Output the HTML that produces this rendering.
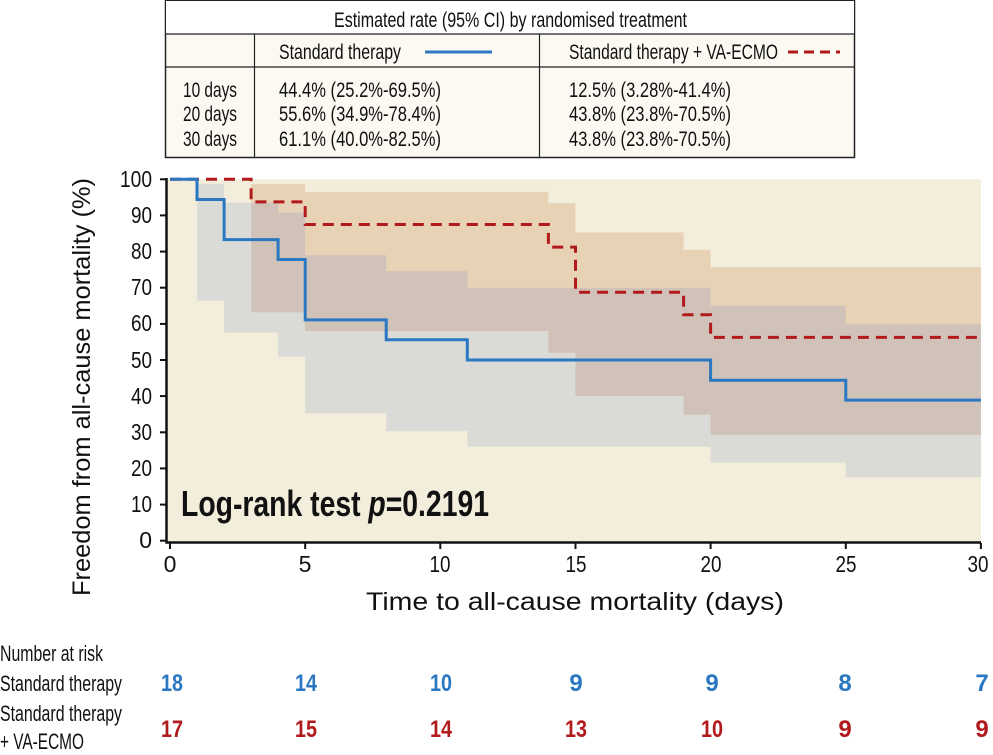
<!DOCTYPE html>
<html><head><meta charset="utf-8"><style>
html,body{margin:0;padding:0;background:#fff}
svg{display:block}
text{font-family:"Liberation Sans Narrow","Liberation Sans",sans-serif;fill:#111}
</style></head><body>
<svg width="993" height="755" viewBox="0 0 993 755" xmlns="http://www.w3.org/2000/svg">
<!-- table -->
<rect x="165.5" y="0.5" width="689" height="157" fill="#fbf9f2" stroke="#222" stroke-width="1.5"/>
<rect x="166" y="1" width="688" height="33" fill="#fff"/>
<line x1="165" y1="34" x2="855" y2="34" stroke="#222" stroke-width="1.2"/>
<line x1="165" y1="67" x2="855" y2="67" stroke="#222" stroke-width="1.2"/>
<line x1="254.5" y1="34" x2="254.5" y2="157" stroke="#222" stroke-width="1.2"/>
<line x1="539.5" y1="34" x2="539.5" y2="157" stroke="#222" stroke-width="1.2"/>
<g font-size="21">
<text x="334" y="27" textLength="353" lengthAdjust="spacingAndGlyphs">Estimated rate (95% CI) by randomised treatment</text>
<text x="279" y="59" textLength="122" lengthAdjust="spacingAndGlyphs">Standard therapy</text>
<text x="569" y="59" textLength="209" lengthAdjust="spacingAndGlyphs">Standard therapy + VA-ECMO</text>
<text x="183" y="97" textLength="54" lengthAdjust="spacingAndGlyphs">10 days</text>
<text x="183" y="121" textLength="54" lengthAdjust="spacingAndGlyphs">20 days</text>
<text x="183" y="146" textLength="54" lengthAdjust="spacingAndGlyphs">30 days</text>
<text x="279" y="97" textLength="162" lengthAdjust="spacingAndGlyphs">44.4% (25.2%-69.5%)</text>
<text x="279" y="121" textLength="162" lengthAdjust="spacingAndGlyphs">55.6% (34.9%-78.4%)</text>
<text x="279" y="146" textLength="162" lengthAdjust="spacingAndGlyphs">61.1% (40.0%-82.5%)</text>
<text x="569" y="97" textLength="162" lengthAdjust="spacingAndGlyphs">12.5% (3.28%-41.4%)</text>
<text x="569" y="121" textLength="162" lengthAdjust="spacingAndGlyphs">43.8% (23.8%-70.5%)</text>
<text x="569" y="146" textLength="162" lengthAdjust="spacingAndGlyphs">43.8% (23.8%-70.5%)</text>
</g>
<line x1="425" y1="52" x2="492" y2="52" stroke="#2a77c2" stroke-width="3"/>
<line x1="788" y1="52" x2="840" y2="52" stroke="#b2191b" stroke-width="3" stroke-dasharray="10,6"/>

<!-- plot background -->
<rect x="167" y="179.3" width="814" height="362" fill="#f3eedb"/>
<g transform="translate(170,540.7) scale(27.03,-3.614)">
<g fill="#dadbd6">
<rect x="1" y="66.4" width="1" height="32.3"/>
<rect x="2" y="57.6" width="2" height="35.9"/>
<rect x="4" y="50.9" width="1" height="39.9"/>
<rect x="5" y="35.3" width="3" height="43.7"/>
<rect x="8" y="30.3" width="3" height="44.3"/>
<rect x="11" y="26" width="9" height="44"/>
<rect x="20" y="21.6" width="5" height="43.4"/>
<rect x="25" y="17.6" width="5" height="42.3"/>
</g>
<g fill="#e7d2b6">
<rect x="3" y="63.2" width="2" height="35.5"/>
<rect x="5" y="58" width="9" height="38.5"/>
<rect x="14" y="52" width="1" height="41.4"/>
<rect x="15" y="40" width="4" height="45.3"/>
<rect x="19" y="34.9" width="1" height="45.6"/>
<rect x="20" y="29.3" width="10" height="46.4"/>
</g>
<g fill="#d1c2b9">
<rect x="3" y="63.2" width="1" height="30.3"/>
<rect x="4" y="63.2" width="1" height="27.6"/>
<rect x="5" y="58" width="3" height="21"/>
<rect x="8" y="58" width="3" height="16.6"/>
<rect x="11" y="58" width="3" height="12"/>
<rect x="14" y="52" width="1" height="18"/>
<rect x="15" y="40" width="4" height="30"/>
<rect x="19" y="34.9" width="1" height="35.1"/>
<rect x="20" y="29.3" width="5" height="35.7"/>
<rect x="25" y="29.3" width="5" height="30.6"/>
</g>
</g>
<path d="M170,179.3 H251.1 V201.9 H305.2 V224.5 H548.4 V247.1 H575.5 V292.2 H683.6 V314.8 H710.6 V337.4 H980.9" fill="none" stroke="#b2191b" stroke-width="3" stroke-dasharray="11,7"/>
<path d="M170,179.3 H197 V199.5 H224.1 V239.6 H278.1 V259.5 H305.2 V319.9 H386.2 V339.8 H467.3 V360 H710.6 V380.2 H845.8 V400.1 H980.9" fill="none" stroke="#2a77c2" stroke-width="3"/>

<g stroke="#111" stroke-width="2.5" fill="none">
<path d="M166.5,178 V542.5 H981"/>
</g>
<g stroke="#111" stroke-width="2">
<line x1="160" y1="179.3" x2="166" y2="179.3"/><line x1="160" y1="215.4" x2="166" y2="215.4"/>
<line x1="160" y1="251.6" x2="166" y2="251.6"/><line x1="160" y1="287.7" x2="166" y2="287.7"/>
<line x1="160" y1="323.9" x2="166" y2="323.9"/><line x1="160" y1="360" x2="166" y2="360"/>
<line x1="160" y1="396.1" x2="166" y2="396.1"/><line x1="160" y1="432.3" x2="166" y2="432.3"/>
<line x1="160" y1="468.4" x2="166" y2="468.4"/><line x1="160" y1="504.6" x2="166" y2="504.6"/>
<line x1="160" y1="540.7" x2="166" y2="540.7"/>
<line x1="170" y1="543" x2="170" y2="549"/><line x1="305.2" y1="543" x2="305.2" y2="549"/>
<line x1="440.3" y1="543" x2="440.3" y2="549"/><line x1="575.5" y1="543" x2="575.5" y2="549"/>
<line x1="710.6" y1="543" x2="710.6" y2="549"/><line x1="845.8" y1="543" x2="845.8" y2="549"/>
<line x1="980.9" y1="543" x2="980.9" y2="549"/>
</g>
<g font-size="23" text-anchor="end">
<text x="152" y="187" textLength="32" lengthAdjust="spacingAndGlyphs">100</text>
<text x="152" y="223" textLength="21" lengthAdjust="spacingAndGlyphs">90</text>
<text x="152" y="259" textLength="21" lengthAdjust="spacingAndGlyphs">80</text>
<text x="152" y="295" textLength="21" lengthAdjust="spacingAndGlyphs">70</text>
<text x="152" y="331" textLength="21" lengthAdjust="spacingAndGlyphs">60</text>
<text x="152" y="368" textLength="21" lengthAdjust="spacingAndGlyphs">50</text>
<text x="152" y="404" textLength="21" lengthAdjust="spacingAndGlyphs">40</text>
<text x="152" y="440" textLength="21" lengthAdjust="spacingAndGlyphs">30</text>
<text x="152" y="476" textLength="21" lengthAdjust="spacingAndGlyphs">20</text>
<text x="152" y="512" textLength="21" lengthAdjust="spacingAndGlyphs">10</text>
<text x="152" y="548">0</text>
</g>
<g font-size="23" text-anchor="middle">
<text x="170" y="572">0</text><text x="305" y="572">5</text>
<text x="440" y="572" textLength="21" lengthAdjust="spacingAndGlyphs">10</text>
<text x="576" y="572" textLength="21" lengthAdjust="spacingAndGlyphs">15</text>
<text x="711" y="572" textLength="21" lengthAdjust="spacingAndGlyphs">20</text>
<text x="846" y="572" textLength="21" lengthAdjust="spacingAndGlyphs">25</text>
<text x="978" y="572" textLength="21" lengthAdjust="spacingAndGlyphs">30</text>
</g>
<text x="366" y="610" font-size="25" style="font-family:'Liberation Sans',sans-serif" textLength="418" lengthAdjust="spacingAndGlyphs">Time to all-cause mortality (days)</text>
<text transform="translate(90,596) rotate(-90)" font-size="25" style="font-family:'Liberation Sans',sans-serif" textLength="418" lengthAdjust="spacingAndGlyphs">Freedom from all-cause mortality (%)</text>
<text x="181" y="516" font-size="36" font-weight="bold" textLength="308" lengthAdjust="spacingAndGlyphs">Log-rank test <tspan font-style="italic">p</tspan>=0.2191</text>

<g font-size="22">
<text x="0" y="661" textLength="103" lengthAdjust="spacingAndGlyphs">Number at risk</text>
<text x="0" y="691" textLength="122" lengthAdjust="spacingAndGlyphs">Standard therapy</text>
<text x="0" y="721" textLength="122" lengthAdjust="spacingAndGlyphs">Standard therapy</text>
<text x="0" y="749" textLength="84" lengthAdjust="spacingAndGlyphs">+ VA-ECMO</text>
</g>
<g font-size="24" font-weight="bold" text-anchor="middle">
<text x="172" y="691" style="fill:#2a77c2" textLength="22" lengthAdjust="spacingAndGlyphs">18</text>
<text x="306" y="691" style="fill:#2a77c2" textLength="22" lengthAdjust="spacingAndGlyphs">14</text>
<text x="441" y="691" style="fill:#2a77c2" textLength="22" lengthAdjust="spacingAndGlyphs">10</text>
<text x="576" y="691" style="fill:#2a77c2">9</text>
<text x="712" y="691" style="fill:#2a77c2">9</text>
<text x="845" y="691" style="fill:#2a77c2">8</text>
<text x="982" y="691" style="fill:#2a77c2">7</text>
</g>
<g font-size="24" font-weight="bold" text-anchor="middle">
<text x="172" y="737" style="fill:#b2191b" textLength="22" lengthAdjust="spacingAndGlyphs">17</text>
<text x="306" y="737" style="fill:#b2191b" textLength="22" lengthAdjust="spacingAndGlyphs">15</text>
<text x="441" y="737" style="fill:#b2191b" textLength="22" lengthAdjust="spacingAndGlyphs">14</text>
<text x="576" y="737" style="fill:#b2191b" textLength="22" lengthAdjust="spacingAndGlyphs">13</text>
<text x="712" y="737" style="fill:#b2191b" textLength="22" lengthAdjust="spacingAndGlyphs">10</text>
<text x="845" y="737" style="fill:#b2191b">9</text>
<text x="982" y="737" style="fill:#b2191b">9</text>
</g>
</svg>
</body></html>
